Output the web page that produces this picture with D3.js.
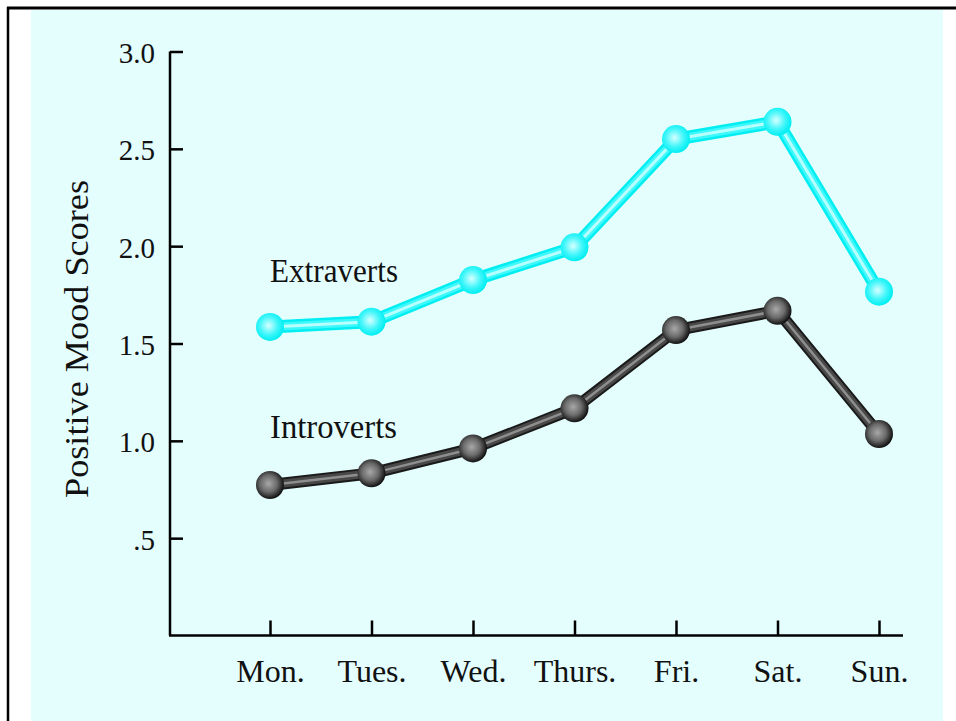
<!DOCTYPE html>
<html>
<head>
<meta charset="utf-8">
<script src="https://cdn.jsdelivr.net/npm/d3@7"></script>
<style>
  body { margin: 0; background: #ffffff; }
  text { font-family: "Liberation Serif", "DejaVu Serif", serif; fill: #111; }
</style>
</head>
<body>
<div id="chart"></div>
<script>
// positive mood by weekday, two groups
var days = ["Mon.", "Tues.", "Wed.", "Thurs.", "Fri.", "Sat.", "Sun."];
var extraverts = [1.585, 1.612, 1.826, 1.994, 2.55, 2.639, 1.766];
var introverts = [0.773, 0.833, 0.961, 1.167, 1.569, 1.668, 1.035];
var yTicks = [0.5, 1.0, 1.5, 2.0, 2.5, 3.0];
var yTickLabels = [".5", "1.0", "1.5", "2.0", "2.5", "3.0"];

var width = 956, height = 721;

var svg = d3.select("#chart")
    .append("svg")
    .attr("width", width)
    .attr("height", height);

// frame + panel
svg.append("rect")
    .attr("x", 31).attr("y", 10)
    .attr("width", 912).attr("height", 711)
    .attr("fill", "#e4fefe");
svg.append("line")
    .attr("x1", 7).attr("x2", width).attr("y1", 8).attr("y2", 8)
    .attr("stroke", "#000").attr("stroke-width", 3);
svg.append("line")
    .attr("x1", 8).attr("x2", 8).attr("y1", 7).attr("y2", height)
    .attr("stroke", "#000").attr("stroke-width", 2.5);

var defs = svg.append("defs");
var g1 = defs.append("radialGradient").attr("id", "ballCyan")
    .attr("cx", "45%").attr("cy", "45%").attr("r", "55%");
g1.append("stop").attr("offset", "0%").attr("stop-color", "#d6ffff");
g1.append("stop").attr("offset", "60%").attr("stop-color", "#3ff6fa");
g1.append("stop").attr("offset", "100%").attr("stop-color", "#00eef2");
var g2 = defs.append("radialGradient").attr("id", "ballDark")
    .attr("cx", "45%").attr("cy", "45%").attr("r", "55%");
g2.append("stop").attr("offset", "0%").attr("stop-color", "#a8a8a8");
g2.append("stop").attr("offset", "55%").attr("stop-color", "#6a6a6a");
g2.append("stop").attr("offset", "100%").attr("stop-color", "#111111");

var x = d3.scalePoint().domain(days).range([270, 879]);
var y = d3.scaleLinear().domain([0, 3]).range([635.5, 51.5]);
var axisX = 170;

// y axis
var yAxis = svg.append("g")
    .attr("transform", "translate(" + axisX + ",0)")
    .call(d3.axisLeft(y)
        .tickValues(yTicks)
        .tickFormat((d, i) => yTickLabels[i])
        .tickSizeInner(-13)
        .tickSizeOuter(0)
        .tickPadding(15));
yAxis.selectAll("path, line").attr("stroke", "#000").attr("stroke-width", 2.5);
yAxis.select(".domain").attr("d", "M0," + y(3) + "V" + y(0));
yAxis.selectAll("text")
    .attr("font-size", 29)
    .attr("font-family", null)
    .attr("dy", 11);

// x axis
var xAxis = svg.append("g")
    .attr("transform", "translate(0," + y(0) + ")")
    .call(d3.axisBottom(x).tickSizeInner(-15).tickSizeOuter(0));
xAxis.select(".domain").attr("d", "M" + (axisX - 1) + ",0H903");
xAxis.selectAll("path, line").attr("stroke", "#000").attr("stroke-width", 2.5);
xAxis.selectAll("text")
    .attr("font-size", 32)
    .attr("font-family", null)
    .attr("y", 46.5)
    .attr("dy", null);

svg.append("text")
    .attr("transform", "rotate(-90)")
    .attr("x", -339).attr("y", 88)
    .attr("text-anchor", "middle")
    .attr("font-size", 33)
    .attr("textLength", 318)
    .attr("lengthAdjust", "spacingAndGlyphs")
    .text("Positive Mood Scores");

var line = d3.line().x((d, i) => x(days[i])).y(d => y(d));

function tube(values, layers, fillId) {
  var g = svg.append("g");
  layers.forEach(function(l) {
    g.append("path")
        .attr("d", line(values))
        .attr("fill", "none")
        .attr("stroke", l[0])
        .attr("stroke-width", l[1])
        .attr("stroke-linejoin", "round");
  });
  g.selectAll("circle")
      .data(values)
      .enter()
      .append("circle")
      .attr("cx", (d, i) => x(days[i]))
      .attr("cy", d => y(d))
      .attr("r", 14)
      .attr("fill", "url(#" + fillId + ")");
}

tube(extraverts, [["#00eef2", 13], ["#3ff8fb", 8], ["#b8ffff", 3]], "ballCyan");
tube(introverts, [["#1a1a1a", 12], ["#484848", 8], ["#8e8e8e", 2.5]], "ballDark");

svg.append("text")
    .attr("x", 270).attr("y", 282)
    .attr("font-size", 34)
    .attr("textLength", 128)
    .attr("lengthAdjust", "spacingAndGlyphs")
    .text("Extraverts");
svg.append("text")
    .attr("x", 270).attr("y", 438)
    .attr("font-size", 34)
    .attr("textLength", 127)
    .attr("lengthAdjust", "spacingAndGlyphs")
    .text("Introverts");
</script>
</body>
</html>
